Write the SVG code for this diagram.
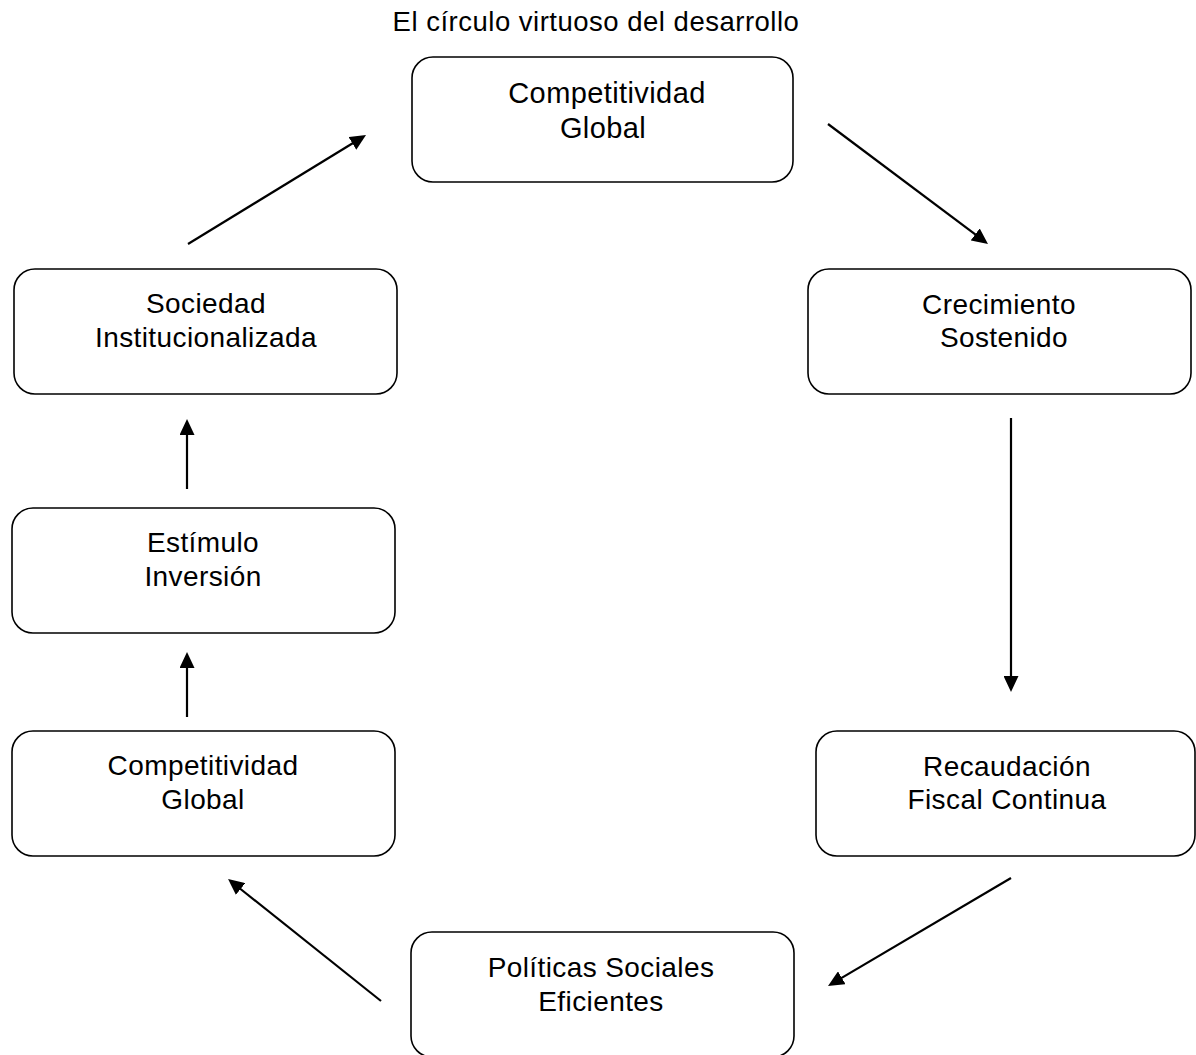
<svg xmlns="http://www.w3.org/2000/svg" width="1196" height="1055" viewBox="0 0 1196 1055">
<style>
.box{fill:#fff;stroke:#000;stroke-width:1.6}
.t{font-family:"Liberation Sans",Arial,sans-serif;font-size:28px;fill:#000;text-anchor:middle;letter-spacing:0.4px}
.tl{font-size:29px}
.title{font-family:"Liberation Sans",Arial,sans-serif;font-size:27.5px;fill:#000;text-anchor:middle;letter-spacing:0.5px}
.c{stroke:#000;stroke-width:2.2;fill:none;marker-end:url(#ah)}
</style>
<defs>
<marker id="ah" viewBox="0 0 16 15" refX="8" refY="7.5" markerWidth="16" markerHeight="15" markerUnits="userSpaceOnUse" orient="auto">
<path d="M0,0 L16,7.5 L0,15 z" fill="#000"/>
</marker>
</defs>
<rect width="1196" height="1055" fill="#fff"/>
<text class="title" x="596" y="31">El círculo virtuoso del desarrollo</text>
<g id="connectors">
<line class="c" x1="828" y1="124" x2="981.6" y2="239.2"/>
<line class="c" x1="1011" y1="418" x2="1011" y2="684"/>
<line class="c" x1="1011" y1="878" x2="834.9" y2="981.9"/>
<line class="c" x1="381" y1="1001" x2="234.3" y2="884"/>
<line class="c" x1="187" y1="717" x2="187" y2="660"/>
<line class="c" x1="187" y1="489" x2="187" y2="427"/>
<line class="c" x1="188" y1="244" x2="359.2" y2="139.2"/>
</g>
<g id="n-competitividad-top">
<rect class="box" x="412" y="57" width="381" height="125" rx="21"/>
<text class="t tl" x="607" y="103">Competitividad</text>
<text class="t tl" x="603" y="138">Global</text>
</g>
<g id="n-crecimiento">
<rect class="box" x="808" y="269" width="383" height="125" rx="21"/>
<text class="t" x="999" y="314">Crecimiento</text>
<text class="t" x="1004" y="347">Sostenido</text>
</g>
<g id="n-recaudacion">
<rect class="box" x="816" y="731" width="379" height="125" rx="21"/>
<text class="t" x="1007" y="776">Recaudación</text>
<text class="t" x="1007" y="809">Fiscal Continua</text>
</g>
<g id="n-politicas">
<rect class="box" x="411" y="932" width="383" height="125" rx="21"/>
<text class="t" x="601" y="977">Políticas Sociales</text>
<text class="t" x="601" y="1011">Eficientes</text>
</g>
<g id="n-competitividad-bottom">
<rect class="box" x="12" y="731" width="383" height="125" rx="21"/>
<text class="t" x="203" y="775">Competitividad</text>
<text class="t" x="203" y="809">Global</text>
</g>
<g id="n-estimulo">
<rect class="box" x="12" y="508" width="383" height="125" rx="21"/>
<text class="t" x="203" y="552">Estímulo</text>
<text class="t" x="203" y="586">Inversión</text>
</g>
<g id="n-sociedad">
<rect class="box" x="14" y="269" width="383" height="125" rx="21"/>
<text class="t" x="206" y="313">Sociedad</text>
<text class="t" x="206" y="347">Institucionalizada</text>
</g>
</svg>
